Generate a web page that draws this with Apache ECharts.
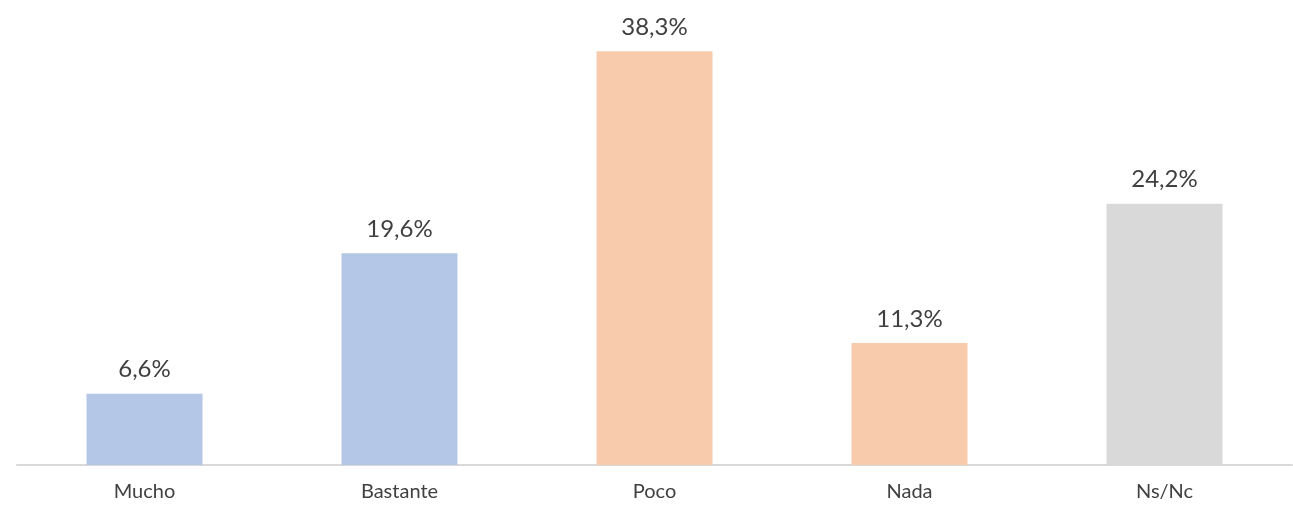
<!DOCTYPE html>
<html>
<head>
<meta charset="utf-8">
<script src="https://cdn.jsdelivr.net/npm/echarts@6/dist/echarts.min.js"></script>
<style>
  html, body { margin: 0; padding: 0; background: #fff; }
  #chart { width: 1293px; height: 507px; }
</style>
</head>
<body>
<div id="chart"></div>
<script>
// categorías y valores (%)
var categories = ['Mucho', 'Bastante', 'Poco', 'Nada', 'Ns/Nc'];
var values = [6.6, 19.6, 38.3, 11.3, 24.2];
var barColors = ['#B4C7E7', '#B4C7E7', '#F8CBAD', '#F8CBAD', '#D9D9D9'];

var chart = echarts.init(document.getElementById('chart'));
chart.setOption({
  animation: false,
  textStyle: { fontFamily: 'Lato' },
  grid: { left: 17, right: 1, top: 33, bottom: 42, containLabel: false },
  xAxis: {
    type: 'category',
    data: categories,
    axisLine: { lineStyle: { color: '#D9D9D9', width: 2 } },
    axisTick: { show: false },
    axisLabel: { color: '#404040', fontSize: 20, margin: 17, fontFamily: 'Lato' }
  },
  yAxis: {
    type: 'value',
    min: 0,
    max: 40,
    show: false,
    splitLine: { show: false }
  },
  series: [{
    type: 'bar',
    barWidth: '45.5%',
    data: values.map(function (v, i) {
      return { value: v, itemStyle: { color: barColors[i] } };
    }),
    label: {
      show: true,
      position: 'top',
      distance: 12,
      color: '#404040',
      fontSize: 24,
      fontFamily: 'Lato',
      formatter: function (p) {
        return p.value.toFixed(1).replace('.', ',') + '%';
      }
    }
  }]
});
</script>
</body>
</html>
